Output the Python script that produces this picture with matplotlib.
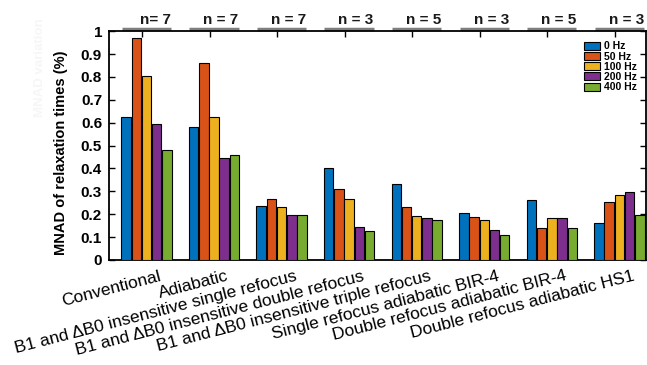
import numpy as np
import matplotlib
matplotlib.use('Agg')
import matplotlib.pyplot as plt
from matplotlib.transforms import ScaledTranslation, blended_transform_factory

plt.rcParams['font.family'] = ['Liberation Sans', 'DejaVu Sans']

# Data
methods = ["Conventional", "Adiabatic",
           "B1 and \u0394B0 insensitive single refocus",
           "B1 and \u0394B0 insensitive double refocus",
           "B1 and \u0394B0 insensitive triple refocus",
           "Single refocus adiabatic BIR-4",
           "Double refocus adiabatic BIR-4",
           "Double refocus adiabatic HS1"]
n_labels = ["n= 7", "n = 7", "n = 7", "n = 3", "n = 5", "n = 3", "n = 5", "n = 3"]
freq_labels = ["0 Hz", "50 Hz", "100 Hz", "200 Hz", "400 Hz"]
mnad_0hz = [0.626, 0.582, 0.234, 0.403, 0.333, 0.207, 0.263, 0.160]
mnad_50hz = [0.969, 0.859, 0.268, 0.309, 0.233, 0.186, 0.140, 0.253]
mnad_100hz = [0.803, 0.623, 0.233, 0.265, 0.194, 0.176, 0.185, 0.283]
mnad_200hz = [0.594, 0.447, 0.195, 0.144, 0.185, 0.131, 0.182, 0.298]
mnad_400hz = [0.480, 0.459, 0.195, 0.127, 0.176, 0.110, 0.138, 0.197]
series = [mnad_0hz, mnad_50hz, mnad_100hz, mnad_200hz, mnad_400hz]

color_cycle = ['#0072BD', '#D95319', '#EDB120', '#7E2F8E', '#77AC30']

fig = plt.figure(figsize=(6.47, 3.65), dpi=100)
ax = fig.add_axes([0.1685, 0.2877, 0.830, 0.627])

x = np.arange(len(methods))
bar_pitch = 0.151
bar_width = 0.14
group_shift = 0.066
for j, vals in enumerate(series):
    ax.bar(x + group_shift + (j - 2) * bar_pitch, vals, width=bar_width,
           color=color_cycle[j], edgecolor='black', linewidth=0.8,
           label=freq_labels[j], zorder=3)

ax.set_xlim(-0.488, 7.46)
ax.set_ylim(0, 1)
ax.set_yticks(np.arange(0, 1.01, 0.1))
ax.set_yticklabels(["0"] + ["%.1f" % v for v in np.arange(0.1, 0.95, 0.1)] + ["1"],
                   fontsize=11, fontweight='bold')
ax.set_xticks(x)
ax.set_xticklabels(methods, rotation=14.5, ha='right', va='top',
                   rotation_mode='anchor', fontsize=12.5)
ax.tick_params(axis='x', direction='in', top=True, bottom=False, length=4,
               width=1, pad=0)
ax.tick_params(axis='y', direction='in', right=True, length=4, width=1, pad=5)
offset = ScaledTranslation(0.17, -0.085, fig.dpi_scale_trans)
for lab in ax.get_xticklabels():
    lab.set_transform(lab.get_transform() + offset)

for sp in ax.spines.values():
    sp.set_linewidth(1.3)

ax.set_ylabel("MNAD of relaxation times (%)", fontsize=10.5, fontweight='bold')
ax.yaxis.set_label_coords(-0.076, 0.47)

# n = ... group annotations above the axes
trans = blended_transform_factory(ax.transData, ax.transAxes)
for i, lab in enumerate(n_labels):
    ax.plot([i - 0.30, i + 0.43], [1.011, 1.011], color='#7f7f7f', linewidth=2.5,
            transform=trans, clip_on=False, solid_capstyle='butt')
    ax.text(i + 0.43, 1.02, lab, transform=trans, ha='right', va='bottom',
            fontsize=11, fontweight='bold', color='#1a1a1a')

# faint watermark text at far left
fig.text(0.062, 0.815, "MNAD variation", rotation=90, ha='center', va='center',
         fontsize=9.5, fontweight='bold', color='#f6f6f6')

ax.legend(loc='upper left', bbox_to_anchor=(0.885, 0.955), frameon=False,
          prop={'size': 7.5, 'weight': 'bold'}, handlelength=1.55,
          handleheight=0.8, handletextpad=0.35, labelspacing=0.02,
          borderpad=0, borderaxespad=0)

fig.savefig('out.png', dpi=100)
